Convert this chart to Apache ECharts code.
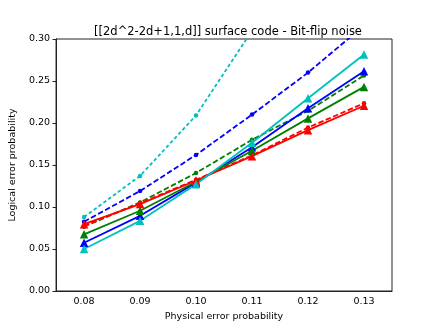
<!DOCTYPE html>
<html>
<head>
<meta charset="utf-8">
<script src="https://cdn.jsdelivr.net/npm/echarts@6/dist/echarts.min.js"></script>
<style>
  html, body { margin: 0; padding: 0; background: #fff; }
  #chart { width: 436px; height: 327px; }
</style>
</head>
<body>
<div id="chart"></div>
<script>
// physical error rates (x) and tick labels
const xCats = ['0.08', '0.09', '0.10', '0.11', '0.12', '0.13'];

// dashed series (small dots)
const cyanDash  = [0.088, 0.137, 0.209, 0.31, 0.43, 0.55];
const blueDash  = [0.0825, 0.119, 0.162, 0.210, 0.260, 0.316];
const greenDash = [0.0765, 0.1055, 0.1405, 0.180, 0.2145, 0.2565];
const redDash   = [0.0775, 0.1045, 0.1325, 0.1615, 0.1945, 0.2235];

// solid series (triangles)
const blueSolid  = [0.0575, 0.0895, 0.129, 0.171, 0.2175, 0.2615];
const greenSolid = [0.0675, 0.0955, 0.130, 0.167, 0.2055, 0.243];
const redSolid   = [0.0795, 0.1035, 0.1315, 0.1605, 0.1915, 0.2205];
const cyanSolid  = [0.050, 0.0835, 0.127, 0.1765, 0.2295, 0.2815];

const FONT = 'DejaVu Sans';

function dashed(name, color, data, dash) {
  return {
    name: name, type: 'line', data: data,
    symbol: 'circle', symbolSize: 4.5,
    lineStyle: { color: color, width: 1.8, type: dash || [5.5, 2.5] },
    itemStyle: { color: color },
    clip: true, animation: false, z: 2
  };
}
function solid(name, color, data) {
  return {
    name: name, type: 'line', data: data,
    symbol: 'triangle', symbolSize: 8.5,
    lineStyle: { color: color, width: 1.8 },
    itemStyle: { color: color },
    clip: true, animation: false, z: 3
  };
}

let myChart = echarts.init(document.getElementById('chart'));
myChart.setOption({
  backgroundColor: '#fff',
  animation: false,
  title: {
    text: '[[2d^2-2d+1,1,d]] surface code - Bit-flip noise',
    left: 223, top: 21, textAlign: 'center',
    textStyle: { fontFamily: FONT, fontSize: 11.5, fontWeight: 'normal', color: '#000' }
  },
  grid: {
    left: 55, right: 44, top: 39, bottom: 36,
    show: true, borderColor: '#222', borderWidth: 1
  },
  xAxis: {
    type: 'category',
    data: xCats,
    boundaryGap: true,
    name: 'Physical error probability',
    nameLocation: 'middle',
    nameGap: 19,
    nameTextStyle: { fontFamily: FONT, fontSize: 9.5, color: '#000' },
    axisLine: { lineStyle: { color: '#222', width: 1 } },
    axisTick: { alignWithLabel: true, length: 3.5, lineStyle: { color: '#222' } },
    axisLabel: { fontFamily: FONT, fontSize: 9.5, color: '#000', margin: 6 },
    splitLine: { show: false }
  },
  yAxis: {
    type: 'value',
    min: 0, max: 0.3, interval: 0.05,
    name: 'Logical error probability',
    nameLocation: 'middle',
    nameGap: 29,
    nameTextStyle: { fontFamily: FONT, fontSize: 9.5, color: '#000' },
    axisLine: { show: true, lineStyle: { color: '#222', width: 1 } },
    axisTick: { show: true, length: 3.5, lineStyle: { color: '#222' } },
    axisLabel: {
      fontFamily: FONT, fontSize: 9.5, color: '#000', margin: 6,
      formatter: v => v.toFixed(2)
    },
    splitLine: { show: false }
  },
  series: [
    dashed('cyan dashed', '#00bfbf', cyanDash, [3.5, 2.5]),
    dashed('blue dashed', '#0000ff', blueDash),
    dashed('green dashed', '#008000', greenDash),
    dashed('red dashed', '#ff0000', redDash),
    solid('blue', '#0000ff', blueSolid),
    solid('green', '#008000', greenSolid),
    solid('red', '#ff0000', redSolid),
    solid('cyan', '#00bfbf', cyanSolid)
  ]
});

window.addEventListener('resize', () => {
  myChart.resize();
});
</script>
</body>
</html>
